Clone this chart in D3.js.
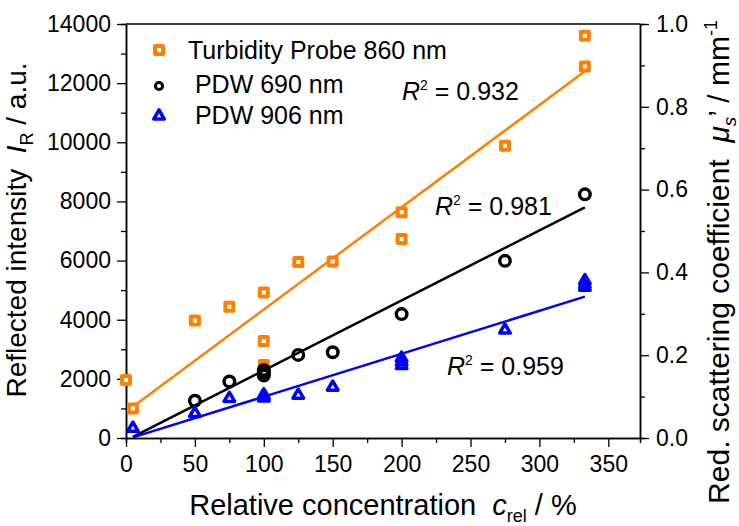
<!DOCTYPE html>
<html>
<head>
<meta charset="utf-8">
<script src="https://cdn.jsdelivr.net/npm/d3@7"></script>
<style>
  body { margin: 0; background: #fff; }
  text { font-family: Arial, "Liberation Sans", sans-serif; fill: #000; }
</style>
</head>
<body>
<script>
// data
const probeX = [0, 5, 50, 75, 100, 100, 100, 125, 150, 200, 200, 275, 333, 333];
const probeY = [1960, 1000, 3970, 4440, 4920, 3280, 2470, 5950, 5970, 7630, 6730, 9880, 13600, 12560];

const pdw690X = [50, 75, 100, 100, 100, 100, 125, 150, 200, 275, 333];
const pdw690Y = [1260, 1910, 2110, 2170, 2240, 2300, 2810, 2900, 4190, 5990, 8240];

const pdw906X = [5, 50, 75, 100, 100, 100, 125, 150, 200, 200, 200, 275, 333, 333, 333];
const pdw906Y = [330, 830, 1340, 1350, 1400, 1460, 1450, 1720, 2450, 2570, 2700, 3650, 5100, 5200, 5320];

// linear fits (end points)
const fitX = [5, 333];
const probeFit = [1060, 12400];
const pdw690Fit = [40, 7800];
const pdw906Fit = [20, 4780];

const seriesNames = ['Turbidity Probe 860 nm', ' PDW 690 nm', ' PDW 906 nm'];
const r2Values = ['0.932', '0.981', '0.959'];

const xTicks = [0, 50, 100, 150, 200, 250, 300, 350];
const xMinor = [25, 75, 125, 175, 225, 275, 325];
const yTicks = [0, 2000, 4000, 6000, 8000, 10000, 12000, 14000];
const yMinor = [1000, 3000, 5000, 7000, 9000, 11000, 13000];
const muTicks = [0, 0.2, 0.4, 0.6, 0.8, 1.0];
const muMinor = [0.1, 0.3, 0.5, 0.7, 0.9];

const orange = '#ff8000';
const blue = '#0000ff';

const w = 739, h = 526;
const pLeft = 126, pRight = 640, pTop = 24, pBottom = 438;

const svg = d3.select('body').append('svg')
              .attr('width', w)
              .attr('height', h);

const x = d3.scaleLinear().domain([0, 373]).range([pLeft, pRight]);
const y = d3.scaleLinear().domain([0, 14000]).range([pBottom, pTop]);
const yMu = d3.scaleLinear().domain([0, 1]).range([pBottom, pTop]);

function styleAxis(g) {
  g.select('.domain').attr('stroke', '#000').attr('stroke-width', 1.5);
  g.selectAll('.tick line').attr('stroke', '#000').attr('stroke-width', 1.3);
  g.selectAll('.tick text').style('font-size', '23px').attr('fill', '#000');
}

// minor ticks first
svg.append('g').attr('transform', `translate(0,${pBottom})`)
   .call(d3.axisBottom(x).tickValues(xMinor).tickSize(5).tickFormat(''))
   .call(styleAxis);
svg.append('g').attr('transform', `translate(${pLeft},0)`)
   .call(d3.axisLeft(y).tickValues(yMinor).tickSize(5).tickFormat(''))
   .call(styleAxis);
svg.append('g').attr('transform', `translate(${pRight},0)`)
   .call(d3.axisRight(yMu).tickValues(muMinor).tickSize(5).tickFormat(''))
   .call(styleAxis);

svg.append('g').attr('transform', `translate(0,${pBottom})`)
   .call(d3.axisBottom(x).tickValues(xTicks).tickSize(9).tickSizeOuter(0).tickPadding(9))
   .call(styleAxis);
svg.append('g').attr('transform', `translate(${pLeft},0)`)
   .call(d3.axisLeft(y).tickValues(yTicks).tickSize(9).tickSizeOuter(0).tickPadding(6).tickFormat(d3.format('d')))
   .call(styleAxis);
svg.append('g').attr('transform', `translate(${pRight},0)`)
   .call(d3.axisRight(yMu).tickValues(muTicks).tickSize(9).tickSizeOuter(0).tickPadding(7).tickFormat(d3.format('.1f')))
   .call(styleAxis);

// top frame
svg.append('line')
   .attr('x1', pLeft).attr('x2', pRight)
   .attr('y1', pTop).attr('y2', pTop)
   .attr('stroke', '#000').attr('stroke-width', 1.5);

// fit lines
const fits = [[probeFit, orange], [pdw690Fit, '#000'], [pdw906Fit, blue]];
fits.forEach(([fy, col]) => {
  svg.append('line')
     .attr('x1', x(fitX[0])).attr('y1', y(fy[0]))
     .attr('x2', x(fitX[1])).attr('y2', y(fy[1]))
     .attr('stroke', col).attr('stroke-width', 2.5);
});

// markers
const sq = d3.symbol().type(d3.symbolSquare).size(64);
const tri = d3.symbol().type(d3.symbolTriangle).size(48);

svg.append('g').selectAll('path')
   .data(d3.zip(probeX, probeY))
   .enter().append('path')
   .attr('d', sq)
   .attr('transform', d => `translate(${x(d[0])},${y(d[1])})`)
   .attr('fill', '#fff').attr('stroke', orange).attr('stroke-width', 4)
   .attr('stroke-linejoin', 'round');

svg.append('g').selectAll('circle')
   .data(d3.zip(pdw690X, pdw690Y))
   .enter().append('circle')
   .attr('cx', d => x(d[0]))
   .attr('cy', d => y(d[1]))
   .attr('r', 5.3)
   .attr('fill', 'none').attr('stroke', '#000').attr('stroke-width', 3.4);

svg.append('g').selectAll('path')
   .data(d3.zip(pdw906X, pdw906Y))
   .enter().append('path')
   .attr('d', tri)
   .attr('transform', d => `translate(${x(d[0])},${y(d[1])})`)
   .attr('fill', 'none').attr('stroke', blue).attr('stroke-width', 3.5)
   .attr('stroke-linejoin', 'round');

// legend
const legend = svg.append('g');
legend.append('path').attr('d', sq).attr('transform', 'translate(159,50)')
      .attr('fill', '#fff').attr('stroke', orange).attr('stroke-width', 4).attr('stroke-linejoin', 'round');
legend.append('circle').attr('cx', 159).attr('cy', 86).attr('r', 3.6)
      .attr('fill', 'none').attr('stroke', '#000').attr('stroke-width', 3);
legend.append('path').attr('d', tri).attr('transform', 'translate(159,116)')
      .attr('fill', 'none').attr('stroke', blue).attr('stroke-width', 3.5).attr('stroke-linejoin', 'round');
legend.selectAll('text')
      .data(seriesNames)
      .enter().append('text')
      .attr('x', 188)
      .attr('y', (d, i) => [59, 93, 124][i])
      .attr('xml:space', 'preserve')
      .style('font-size', '25px')
      .text(d => d);

// R^2 labels
const r2Pos = [[402, 100], [435, 215], [447, 375]];
r2Values.forEach((v, i) => {
  const t = svg.append('text')
               .attr('x', r2Pos[i][0]).attr('y', r2Pos[i][1])
               .style('font-size', '25px');
  t.append('tspan').style('font-style', 'italic').text('R');
  t.append('tspan').attr('dy', -10).style('font-size', '14px').text('2');
  t.append('tspan').attr('dy', 10).text(' = ' + v);
});

// axis titles
const xt = svg.append('text')
              .attr('x', 383).attr('y', 515)
              .attr('text-anchor', 'middle')
              .attr('xml:space', 'preserve')
              .style('font-size', '29px');
xt.append('tspan').text('Relative concentration  ');
xt.append('tspan').style('font-style', 'italic').text('c');
xt.append('tspan').attr('dy', 7).style('font-size', '18px').text('rel');
xt.append('tspan').attr('dy', -7).text(' / %');

const yl = svg.append('text')
              .attr('transform', 'translate(26,230) rotate(-90)')
              .attr('text-anchor', 'middle')
              .attr('xml:space', 'preserve')
              .style('font-size', '28px');
yl.append('tspan').text('Reflected intensity  ');
yl.append('tspan').style('font-style', 'italic').text('I');
yl.append('tspan').attr('dy', 7).style('font-size', '18px').text('R');
yl.append('tspan').attr('dy', -7).text(' / a.u.');

const yr = svg.append('text')
              .attr('transform', 'translate(729,262) rotate(-90)')
              .attr('text-anchor', 'middle')
              .attr('xml:space', 'preserve')
              .style('font-size', '30px');
yr.append('tspan').text('Red. scattering coefficient  ');
yr.append('tspan').style('font-style', 'italic').text('\u03bc');
yr.append('tspan').attr('dy', 7).style('font-size', '19px').style('font-style', 'italic').text('s');
yr.append('tspan').attr('dy', -7).text('\u2019 / mm');
yr.append('tspan').attr('dy', -12).style('font-size', '18px').text('-1');
</script>
</body>
</html>
